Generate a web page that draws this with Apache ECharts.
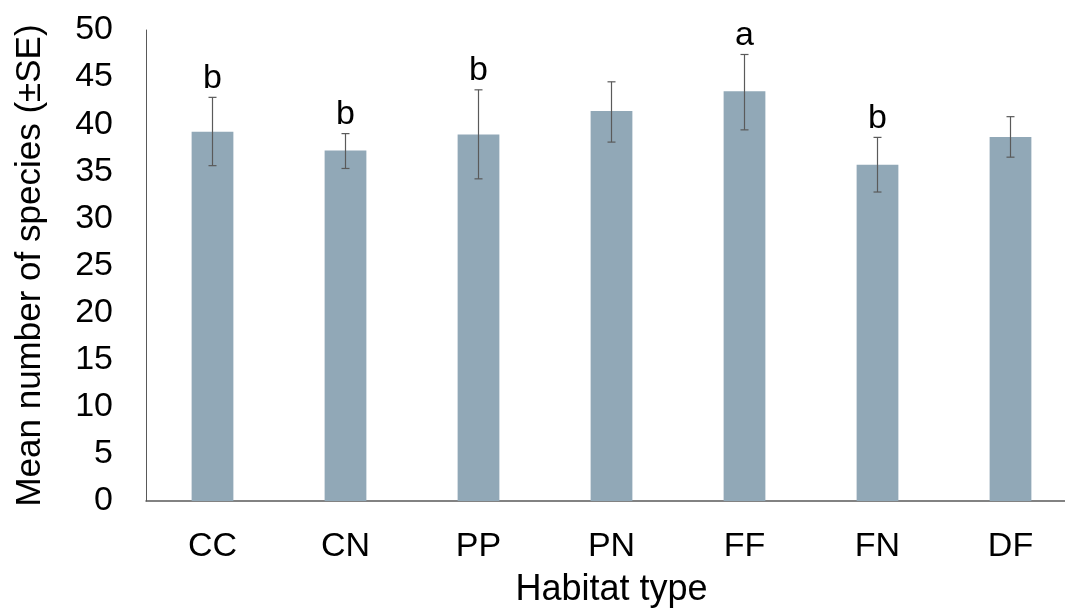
<!DOCTYPE html>
<html><head><meta charset="utf-8">
<script src="https://cdn.jsdelivr.net/npm/echarts@6/dist/echarts.min.js"></script>
<style>html,body{margin:0;padding:0;background:#fff}#c{width:1065px;height:608px}</style>
</head><body><div id="c"></div>
<script>
var categories = ['CC','CN','PP','PN','FF','FN','DF'];
var means = [39.2, 37.2, 38.9, 41.4, 43.5, 35.7, 38.65];
var errLow = [35.6, 35.3, 34.2, 38.1, 39.4, 32.8, 36.5];
var errHigh = [42.85, 39.0, 43.65, 44.5, 47.4, 38.6, 40.8];
var letters = ['b','b','b','','a','b',''];
var yTicks = {min: 0, max: 50, interval: 5};

var chart = echarts.init(document.getElementById('c'));
var errData = categories.map(function(c,i){return [i, errLow[i], errHigh[i], letters[i]];});
chart.setOption({
  animation: false,
  textStyle: {fontFamily: 'Liberation Sans, Arial, sans-serif'},
  grid: {left: 146, top: 30, right: -12, bottom: 107, containLabel: false, outerBoundsMode: 'none'},
  xAxis: {
    type: 'category', data: categories,
    name: 'Habitat type', nameLocation: 'middle', nameGap: 71,
    nameTextStyle: {fontSize: 36, color: '#000'},
    axisLine: {lineStyle: {color: '#595959', width: 1.5}},
    axisTick: {show: false},
    axisLabel: {fontSize: 34, color: '#000', margin: 29}
  },
  yAxis: {
    type: 'value', min: yTicks.min, max: yTicks.max, interval: yTicks.interval,
    name: 'Mean number of species (±SE)', nameLocation: 'middle', nameGap: 98,
    nameTextStyle: {fontSize: 35, color: '#000'},
    axisLine: {show: true, lineStyle: {color: '#595959', width: 1}},
    axisTick: {show: false},
    splitLine: {show: false},
    axisLabel: {fontSize: 34, color: '#000', margin: 33}
  },
  series: [
    {type: 'bar', data: means, barWidth: '31.4%',
     itemStyle: {color: '#91a8b7'}},
    {type: 'custom', data: errData, z: 10,
     renderItem: function(params, api){
       var x = api.value(0);
       var lo = api.coord([x, api.value(1)]);
       var hi = api.coord([x, api.value(2)]);
       var cap = 4;
       var st = {stroke: '#5a5a5a', lineWidth: 1.2};
       var children = [
         {type:'line', shape:{x1:lo[0],y1:lo[1],x2:hi[0],y2:hi[1]}, style:st},
         {type:'line', shape:{x1:lo[0]-cap,y1:lo[1],x2:lo[0]+cap,y2:lo[1]}, style:st},
         {type:'line', shape:{x1:hi[0]-cap,y1:hi[1],x2:hi[0]+cap,y2:hi[1]}, style:st}
       ];
       var letter = letters[params.dataIndex];
       if (letter) {
         children.push({type:'text', style:{text: letter, x: hi[0], y: hi[1]-19,
           textAlign:'center', textVerticalAlign:'middle', fontSize: 34,
           fontFamily:'Liberation Sans, Arial, sans-serif', fill:'#000'}});
       }
       return {type:'group', children: children};
     }}
  ]
});
</script></body></html>
